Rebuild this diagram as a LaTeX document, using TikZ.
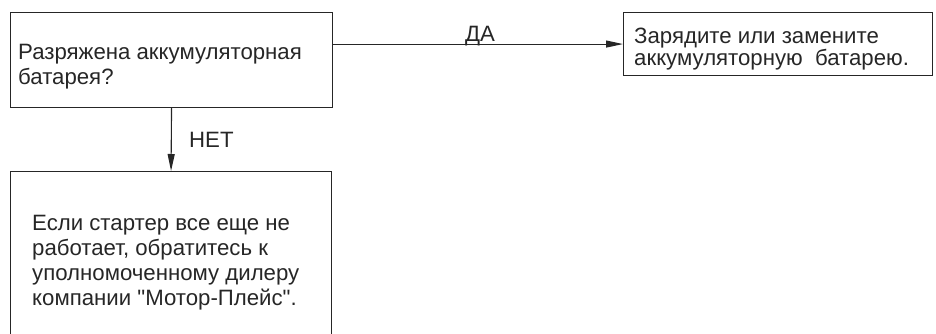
\documentclass[tikz,border=0pt]{standalone}
\usepackage{fontspec}
\setmainfont{Liberation Sans}[Ligatures=TeXOff]
\usetikzlibrary{arrows.meta}
\tikzset{
  box/.style={draw=black!85, line width=1.1pt, rectangle, inner sep=0pt, anchor=north west},
  txt/.style={anchor=base west, align=left, inner sep=0pt, text=black!85, font=\fontsize{22.2}{25}\selectfont},
  lbl/.style={inner sep=0pt, text=black!85, font=\fontsize{22.2}{25}\selectfont},
  conn/.style={draw=black!85, line width=1.1pt, -{Triangle[length=17pt,width=7pt]}}
}
\begin{document}
\begin{tikzpicture}[x=1pt,y=1pt]
\useasboundingbox (0,0) rectangle (936,-333);
\clip (0,0) rectangle (936,-333);
\node[box, minimum width=322pt, minimum height=95pt] (q) at (10,-12) {};
\node[box, minimum width=309pt, minimum height=63pt] (a) at (623,-12) {};
\node[box, minimum width=321pt, minimum height=220pt] (r) at (10,-171) {};
\node[txt] (qt) at (18,-84) {Разряжена аккумуляторная\\батарея?};
\node[txt, font=\fontsize{22.2}{22.5}\selectfont] (at) at (634,-65.5) {Зарядите или замените\\аккумуляторную~ батарею.};
\node[txt] (rt) at (32,-305) {Если стартер все еще не\\работает, обратитесь к\\уполномоченному дилеру\\компании "Мотор-Плейс".};
\draw[conn] (a.west -| q.east) -- (a.west);
\draw[conn] (q.south) -- (r.north);
\node[lbl, anchor=base] (yes) at (480,-41) {ДА};
\node[lbl, anchor=base west] (no) at (189,-147) {НЕТ};
\end{tikzpicture}
\end{document}
